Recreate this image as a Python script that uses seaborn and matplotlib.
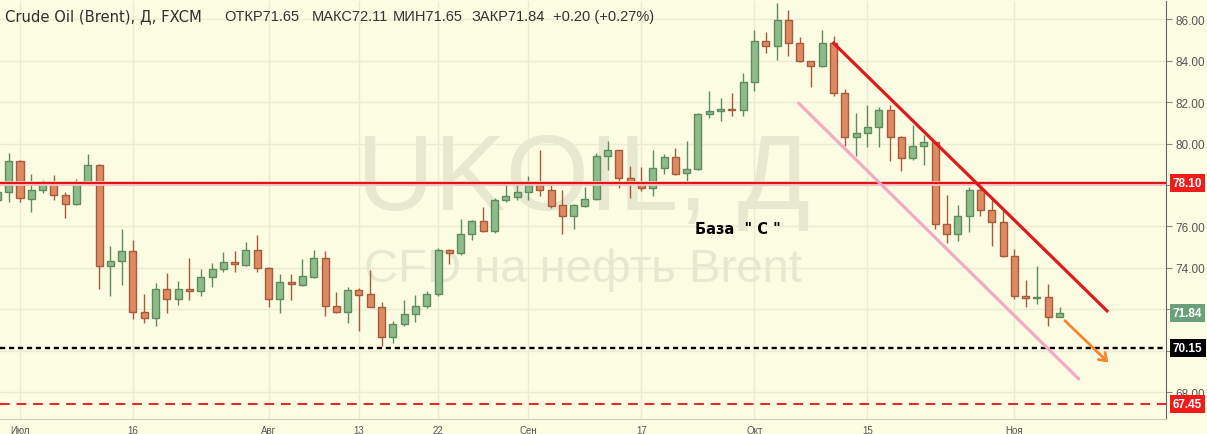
import matplotlib
matplotlib.use("Agg")
import matplotlib.pyplot as plt
import matplotlib.transforms as mtransforms
import numpy as np
import pandas as pd
import seaborn as sns

# ── data ──────────────────────────────────────────────────────────────────────
bar_index = list(range(-2, 93))
opens = [77.28, 77.66, 79.16, 77.33, 77.76, 78.05, 77.52, 77.08, 78.14, 78.96,
         74.10, 74.34, 74.82, 71.88, 71.59, 73.00, 72.51, 73.00, 72.90, 73.57,
         73.95, 74.29, 74.14, 74.87, 74.00, 72.51, 73.33, 73.18, 73.57, 74.48,
         72.17, 71.88, 72.94, 72.75, 72.12, 70.67, 71.30, 71.78, 72.17, 72.75,
         74.87, 74.72, 75.64, 76.27, 75.78, 77.28, 77.42, 77.66, 78.00, 77.76,
         77.04, 76.51, 76.99, 77.33, 79.40, 79.69, 78.34, 78.10, 77.86, 78.82,
         79.35, 78.58, 78.77, 81.42, 81.57, 81.66, 81.61, 82.96, 84.94, 84.70,
         85.95, 84.84, 83.98, 83.73, 84.84, 82.43, 80.31, 80.51, 80.80, 81.61,
         80.31, 79.30, 79.88, 80.07, 76.12, 75.64, 76.51, 77.76, 76.80, 76.22,
         74.58, 72.65, 72.55, 72.60, 71.65]
highs = [77.90, 79.54, 79.20, 78.53, 78.24, 78.48, 77.66, 78.29, 79.49, 79.00,
         75.06, 75.88, 75.35, 72.75, 73.28, 73.76, 73.37, 74.48, 73.95, 74.24,
         74.77, 74.82, 75.25, 75.59, 74.05, 73.71, 73.71, 74.43, 74.87, 74.82,
         72.84, 73.08, 73.04, 73.90, 72.36, 71.45, 72.46, 72.70, 72.89, 74.96,
         74.92, 76.36, 76.32, 76.94, 77.37, 78.05, 78.19, 78.43, 79.69, 78.05,
         77.76, 77.10, 77.90, 79.54, 80.12, 79.70, 78.92, 78.87, 79.69, 79.49,
         79.78, 80.12, 81.47, 82.53, 82.19, 82.43, 83.40, 85.47, 85.37, 86.77,
         86.43, 85.13, 84.00, 85.47, 85.18, 82.63, 81.47, 81.86, 81.76, 81.86,
         80.36, 80.89, 80.41, 80.12, 77.52, 77.04, 77.90, 77.95, 77.28, 76.75,
         74.92, 73.42, 74.10, 73.23, 72.11]
lows = [77.10, 77.18, 77.18, 76.70, 77.60, 77.28, 76.41, 77.05, 78.10, 73.00,
        72.65, 73.18, 71.54, 71.35, 71.20, 71.83, 72.22, 72.46, 72.65, 73.08,
        73.81, 73.81, 74.10, 73.81, 72.12, 71.83, 72.46, 73.13, 73.52, 71.69,
        71.83, 71.35, 70.96, 72.10, 70.24, 70.39, 71.20, 71.40, 72.07, 72.65,
        74.19, 74.62, 75.35, 75.73, 75.69, 77.18, 77.28, 77.28, 77.47, 76.89,
        75.64, 75.88, 76.94, 77.28, 78.72, 77.86, 77.37, 77.71, 77.47, 78.53,
        78.48, 78.19, 78.72, 81.23, 81.08, 81.33, 81.33, 82.53, 84.36, 84.02,
        84.22, 83.93, 82.72, 83.70, 82.29, 79.88, 79.40, 79.83, 79.83, 79.16,
        78.67, 79.20, 78.96, 75.88, 75.20, 75.30, 75.73, 76.51, 75.06, 74.55,
        72.51, 72.12, 72.27, 71.20, 71.65]
closes = [77.66, 79.16, 77.37, 77.76, 78.05, 77.52, 77.08, 78.14, 78.96, 74.10,
          74.34, 74.82, 71.88, 71.59, 73.00, 72.51, 73.00, 72.90, 73.57, 73.95,
          74.29, 74.19, 74.87, 74.00, 72.51, 73.33, 73.23, 73.61, 74.48, 72.17,
          71.88, 72.94, 72.70, 72.12, 70.67, 71.30, 71.78, 72.17, 72.75, 74.87,
          74.72, 75.64, 76.27, 75.78, 77.28, 77.47, 77.66, 78.00, 77.76, 76.99,
          76.51, 77.04, 77.33, 79.40, 79.69, 78.34, 78.10, 77.86, 78.82, 79.35,
          78.53, 78.77, 81.42, 81.57, 81.66, 81.61, 82.96, 84.94, 84.70, 85.95,
          84.84, 83.98, 83.73, 84.84, 82.43, 80.31, 80.51, 80.80, 81.61, 80.31,
          79.30, 79.88, 80.07, 76.12, 75.64, 76.51, 77.76, 76.80, 76.22, 74.58,
          72.65, 72.55, 72.60, 71.64, 71.84]

date_ticks = [0, 10, 22, 30, 37, 45, 55, 65, 75, 88]
date_labels = ["Июл", "16", "Авг", "13", "22", "Сен", "17", "Окт", "15", "Ноя"]
price_ticks = [68, 70, 72, 74, 76, 78, 80, 82, 84, 86]

resistance = 78.10
support_1 = 70.15
support_2 = 67.45
last_close = 71.84

trend_x = [71.9, 96.3]
trend_y = [84.89, 71.88]
channel_x = [68.9, 93.7]
channel_y = [81.95, 68.65]
arrow_x = [92.3, 96.5]
arrow_y = [71.55, 69.35]

df = pd.DataFrame({"i": bar_index, "open": opens, "high": highs,
                   "low": lows, "close": closes})

# ── style ─────────────────────────────────────────────────────────────────────
BG = "#fcfce3"
GRID = "#ebebd2"
UP_FILL, UP_EDGE = "#8dbb8a", "#5e8c5d"
DN_FILL, DN_EDGE = "#de8a62", "#a65c3c"

sns.set_style("white", {"axes.facecolor": BG, "figure.facecolor": BG})
plt.rcParams["font.family"] = ["DejaVu Sans"]

fig = plt.figure(figsize=(12.07, 4.35), dpi=100)
ax = fig.add_axes([0, 15 / 435, 1166 / 1207, 418 / 435])
ax.set_facecolor(BG)

# grid
for t in price_ticks:
    ax.axhline(t, color=GRID, lw=1, zorder=0)
for t in date_ticks:
    ax.axvline(t, color=GRID, lw=1, zorder=0)

# watermarks
ax.text(49.9, 78.2, "UKOIL, Д", fontsize=77, color="#e7e8d0", ha="center",
        va="center", zorder=0.5, family=["Liberation Sans", "DejaVu Sans"])
ax.text(49.8, 73.95, "CFD на нефть Brent", fontsize=34, color="#e7e8d0",
        ha="center", va="center", zorder=0.5, family=["Liberation Sans", "DejaVu Sans"])

# candles
up = df["close"] >= df["open"]
for mask, fill, edge in [(up, UP_FILL, UP_EDGE), (~up, DN_FILL, DN_EDGE)]:
    d = df[mask]
    ax.vlines(d["i"], d["low"], d["high"], color=edge, lw=1, zorder=2)
    body = (d["close"] - d["open"]).abs().clip(lower=0.06)
    ax.bar(d["i"], body, bottom=d[["open", "close"]].min(axis=1), width=0.62,
           color=fill, edgecolor=edge, linewidth=1, zorder=3)

# levels
ax.axhline(resistance, color="#f7c4c4", lw=3.4, zorder=4)
ax.axhline(resistance, color="#e01616", lw=1.5, zorder=4)
ax.axhline(support_1, color="black", lw=1.7, ls=(0, (2.2, 1.6)), zorder=4)
ax.axhline(support_2, color="#e8251f", lw=1.4, ls=(0, (5, 3.5)), zorder=4)

# channel lines and arrow
ax.plot(trend_x, trend_y, color="#dd1b1b", lw=2.3, solid_capstyle="butt", zorder=5)
ax.plot(channel_x, channel_y, color="#f4a9c6", lw=2.3, zorder=5)
ax.annotate("", xy=(arrow_x[1], arrow_y[1]), xytext=(arrow_x[0], arrow_y[0]),
            arrowprops=dict(arrowstyle="->,head_length=0.5,head_width=0.35",
                            color="#f5862a", lw=2), zorder=5)

ax.text(59.7, 75.88, "База  \" С \"", fontsize=10.5, fontweight="bold",
        color="black", ha="left", va="center", zorder=6)

# axes
ax.set_xlim(-1.77, 101.42)
ax.set_ylim(66.72, 86.87)
ax.yaxis.tick_right()
ax.set_yticks(price_ticks)
ax.set_yticklabels(["" if t in (70, 72, 78) else f"{t:.2f}" for t in price_ticks],
                   fontsize=8.5, color="#555555", family=["Liberation Sans", "DejaVu Sans"])
ax.set_xticks(date_ticks)
ax.set_xticklabels(date_labels, fontsize=7, color="#555555",
                   family=["Liberation Sans Narrow", "Liberation Sans", "DejaVu Sans"])
ax.tick_params(axis="y", length=4, color="#888888", pad=3)
ax.tick_params(axis="x", length=3, color="#aaaaaa", pad=1)
for s in ["left", "top"]:
    ax.spines[s].set_visible(False)
ax.spines["right"].set_color("#666666")
ax.spines["bottom"].set_color("#d0d0c0")

# price tags on the right axis
trans = mtransforms.blended_transform_factory(ax.transAxes, ax.transData)
for price, bg in [(resistance, "#f01c1c"), (last_close, "#6c9f7c"),
                  (support_1, "black"), (support_2, "#f01c1c")]:
    ax.text(1.006, price, f"{price:.2f}", transform=trans, fontsize=8.5,
            fontweight="bold", color="white", ha="left", va="center",
            family=["Liberation Sans", "DejaVu Sans"], clip_on=False, zorder=10,
            bbox=dict(boxstyle="square,pad=0.25", fc=bg, ec="none"))

# header
fig.text(5 / 1207, 1 - 17 / 435, "Crude Oil (Brent), Д, FXCM", fontsize=10.6,
         color="#2e2e2e", va="center", ha="left")
for x_px, s in [(224, "ОТКР71.65"), (312, "МАКС72.11"), (393, "МИН71.65"),
                (472, "ЗАКР71.84"), (553, "+0.20 (+0.27%)")]:
    fig.text(x_px / 1207, 1 - 17 / 435, s, fontsize=10.5, color="#333333",
             va="center", ha="left", family=["Liberation Sans Narrow", "Liberation Sans", "DejaVu Sans"])

fig.savefig("out.png", dpi=100, facecolor=BG)
